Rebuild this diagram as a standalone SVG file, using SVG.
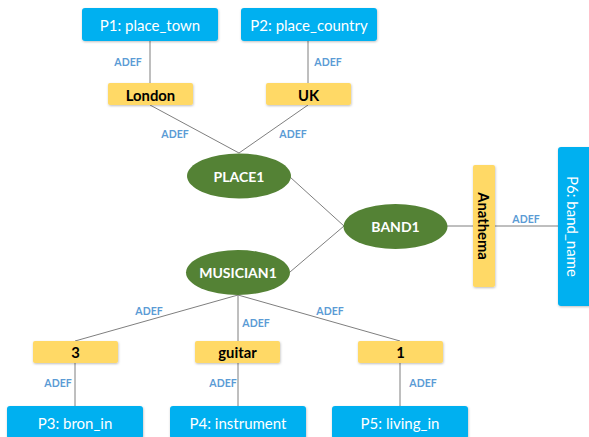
<svg xmlns="http://www.w3.org/2000/svg" width="589" height="437" viewBox="0 0 589 437">
<defs>
<style>
.p{fill:#00B0F0;}
.v{fill:#FFD966;}
.e{fill:#548235;}
.pt{font-family:Lato,"Liberation Sans",sans-serif;font-size:15px;fill:#fff;text-anchor:middle;dominant-baseline:central;}
.vt{font-family:Lato,"Liberation Sans",sans-serif;font-size:14.8px;font-weight:bold;fill:#000;text-anchor:middle;dominant-baseline:central;}
.et{font-family:Lato,"Liberation Sans",sans-serif;font-size:14px;font-weight:bold;fill:#fff;text-anchor:middle;dominant-baseline:central;}
.a{font-family:Lato,"Liberation Sans",sans-serif;font-size:10.5px;font-weight:bold;fill:#5B9BD5;text-anchor:middle;dominant-baseline:central;}
.c line{stroke:#7F7F7F;stroke-width:1;}
</style>
<filter id="sh" x="-10%" y="-10%" width="120%" height="130%"><feDropShadow dx="0.5" dy="1" stdDeviation="0.8" flood-color="#000" flood-opacity="0.25"/></filter>
</defs>
<rect width="589" height="437" fill="#fff"/>
<g class="c" id="connectors">
<line x1="150" y1="41" x2="150" y2="83"/>
<line x1="308" y1="41" x2="308" y2="83"/>
<line x1="150" y1="105" x2="239" y2="153"/>
<line x1="308" y1="105" x2="239" y2="153"/>
<line x1="290" y1="177" x2="344" y2="226"/>
<line x1="290" y1="272" x2="344" y2="226"/>
<line x1="447" y1="226" x2="473" y2="226"/>
<line x1="495" y1="226" x2="558" y2="226"/>
<line x1="238" y1="295" x2="75" y2="341"/>
<line x1="238" y1="295" x2="238" y2="341"/>
<line x1="238" y1="295" x2="400" y2="341"/>
<line x1="75" y1="363" x2="75" y2="406"/>
<line x1="238" y1="363" x2="238" y2="406"/>
<line x1="400" y1="363" x2="400" y2="406"/>
<text class="a" x="128" y="62">ADEF</text>
<text class="a" x="328" y="62">ADEF</text>
<text class="a" x="175" y="134">ADEF</text>
<text class="a" x="293" y="134">ADEF</text>
<text class="a" x="526" y="219">ADEF</text>
<text class="a" x="149" y="311">ADEF</text>
<text class="a" x="256" y="323">ADEF</text>
<text class="a" x="330" y="311">ADEF</text>
<text class="a" x="58" y="383">ADEF</text>
<text class="a" x="223" y="383">ADEF</text>
<text class="a" x="423" y="383">ADEF</text>
</g>
<g id="P1"><rect class="p" x="82" y="8" width="136" height="33" rx="3" filter="url(#sh)"/><text class="pt" x="150" y="25">P1: place_town</text></g>
<g id="P2"><rect class="p" x="241" y="8" width="136" height="33" rx="3" filter="url(#sh)"/><text class="pt" x="309" y="25">P2: place_country</text></g>
<g id="London"><rect class="v" x="108" y="83" width="85" height="22" rx="2" filter="url(#sh)"/><text class="vt" x="150.5" y="94.5">London</text></g>
<g id="UK"><rect class="v" x="266" y="83" width="85" height="22" rx="2" filter="url(#sh)"/><text class="vt" x="308.5" y="94.5">UK</text></g>
<g id="PLACE1"><ellipse class="e" cx="239" cy="176" rx="52" ry="22.5"/><text class="et" x="239" y="176">PLACE1</text></g>
<g id="BAND1"><ellipse class="e" cx="395.5" cy="226.5" rx="52" ry="22.5"/><text class="et" x="395.5" y="226.5">BAND1</text></g>
<g id="MUSICIAN1"><ellipse class="e" cx="238" cy="272.5" rx="52" ry="22.5"/><text class="et" x="238" y="272.5">MUSICIAN1</text></g>
<g id="Anathema"><rect class="v" x="473" y="165" width="22" height="122" rx="2" filter="url(#sh)"/><text class="vt" transform="translate(484,226) rotate(90)" x="0" y="0">Anathema</text></g>
<g id="P6"><rect class="p" x="558" y="147" width="36" height="159" rx="3" filter="url(#sh)"/><text class="pt" transform="translate(573,226.5) rotate(90)" x="0" y="0">P6: band_name</text></g>
<g id="v3"><rect class="v" x="33" y="341" width="85" height="22" rx="2" filter="url(#sh)"/><text class="vt" x="75.5" y="352">3</text></g>
<g id="guitar"><rect class="v" x="195" y="341" width="85" height="22" rx="2" filter="url(#sh)"/><text class="vt" x="237.5" y="352">guitar</text></g>
<g id="v1"><rect class="v" x="358" y="341" width="85" height="22" rx="2" filter="url(#sh)"/><text class="vt" x="400.5" y="352">1</text></g>
<g id="P3"><rect class="p" x="7" y="406" width="136" height="33" rx="3" filter="url(#sh)"/><text class="pt" x="75" y="423">P3: bron_in</text></g>
<g id="P4"><rect class="p" x="170" y="406" width="136" height="33" rx="3" filter="url(#sh)"/><text class="pt" x="238" y="423">P4: instrument</text></g>
<g id="P5"><rect class="p" x="332" y="406" width="136" height="33" rx="3" filter="url(#sh)"/><text class="pt" x="400" y="423">P5: living_in</text></g>
</svg>
